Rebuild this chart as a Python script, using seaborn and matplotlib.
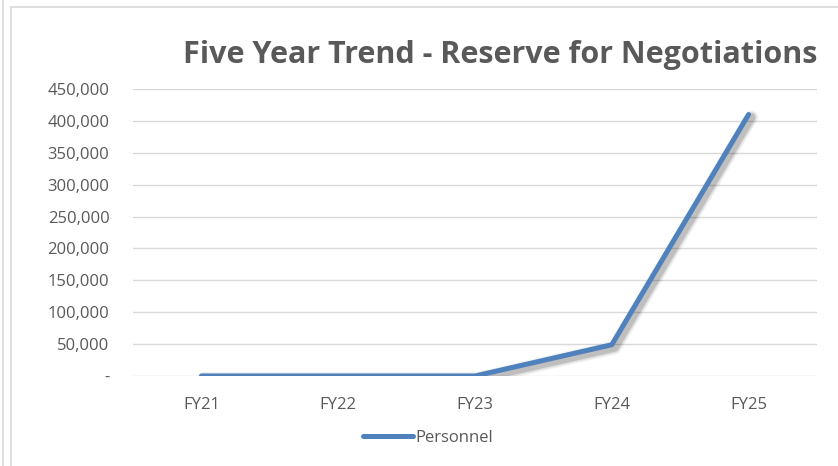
import matplotlib
matplotlib.use("Agg")
import matplotlib.pyplot as plt
import matplotlib.patheffects as pe
from matplotlib.lines import Line2D
from matplotlib.ticker import FuncFormatter
import pandas as pd
import seaborn as sns

# Data
years = ["FY21", "FY22", "FY23", "FY24", "FY25"]
personnel = [0, 0, 0, 49000, 410000]
y_ticks = [0, 50000, 100000, 150000, 200000, 250000, 300000, 350000, 400000, 450000]

title = "Five Year Trend - Reserve for Negotiations"
series_name = "Personnel"

sns.set_style("white")
plt.rcParams["font.family"] = ["Open Sans", "DejaVu Sans"]

text_color = "#595959"
grid_color = "#D9D9D9"
line_color = "#4F81BD"

df = pd.DataFrame({"year": years, "value": personnel})

fig = plt.figure(figsize=(8.38, 4.66), dpi=100)
ax = fig.add_axes([133 / 838, 1 - 376 / 466, (817 - 133) / 838, (376 - 89) / 466])

# soft drop shadow under the series line
shadow = [
    pe.Stroke(offset=(2, -2), linewidth=10, foreground="#000000", alpha=0.05),
    pe.Stroke(offset=(2, -2), linewidth=8, foreground="#000000", alpha=0.08),
    pe.Stroke(offset=(2, -2), linewidth=6, foreground="#000000", alpha=0.14),
    pe.Normal(),
]
sns.lineplot(data=df, x="year", y="value", ax=ax, color=line_color, linewidth=3.6,
             solid_capstyle="round", solid_joinstyle="round", sort=False,
             path_effects=shadow)

ax.set_xlim(-0.5, len(years) - 0.5)
ax.set_ylim(0, 450000)
ax.set_yticks(y_ticks)
ax.yaxis.set_major_formatter(FuncFormatter(lambda v, p: "-" if v == 0 else f"{int(v):,}"))
ax.grid(axis="y", color=grid_color, linewidth=1.0)
ax.set_axisbelow(True)
for s in ax.spines.values():
    s.set_visible(False)
ax.tick_params(axis="both", length=0, labelsize=12, labelcolor=text_color)
ax.tick_params(axis="y", pad=17)
ax.tick_params(axis="x", pad=15)
ax.set_xlabel("")
ax.set_ylabel("")

fig.text(500 / 838, 1 - 55 / 466, title, ha="center", va="center", fontsize=22,
         fontweight="bold", color=text_color)

handle = Line2D([], [], color=line_color, linewidth=3.6, solid_capstyle="round")
fig.legend([handle], [series_name], loc="center", bbox_to_anchor=(428 / 838, 1 - 438 / 466),
           frameon=False, fontsize=12, labelcolor=text_color, handlelength=3.0,
           handletextpad=0.1)

# chart frame lines
fig.add_artist(Line2D([10.5 / 838, 10.5 / 838], [0, 1 - 6.5 / 466], color="#D9D9D9", linewidth=1.2,
                      transform=fig.transFigure))
fig.add_artist(Line2D([10.5 / 838, 1], [1 - 6.5 / 466, 1 - 6.5 / 466], color="#D9D9D9", linewidth=1.2,
                      transform=fig.transFigure))
fig.add_artist(Line2D([2.5 / 838, 2.5 / 838], [0, 1], color="#D9D9D9", linewidth=1.2,
                      transform=fig.transFigure))

fig.savefig("out.png", dpi=100)
